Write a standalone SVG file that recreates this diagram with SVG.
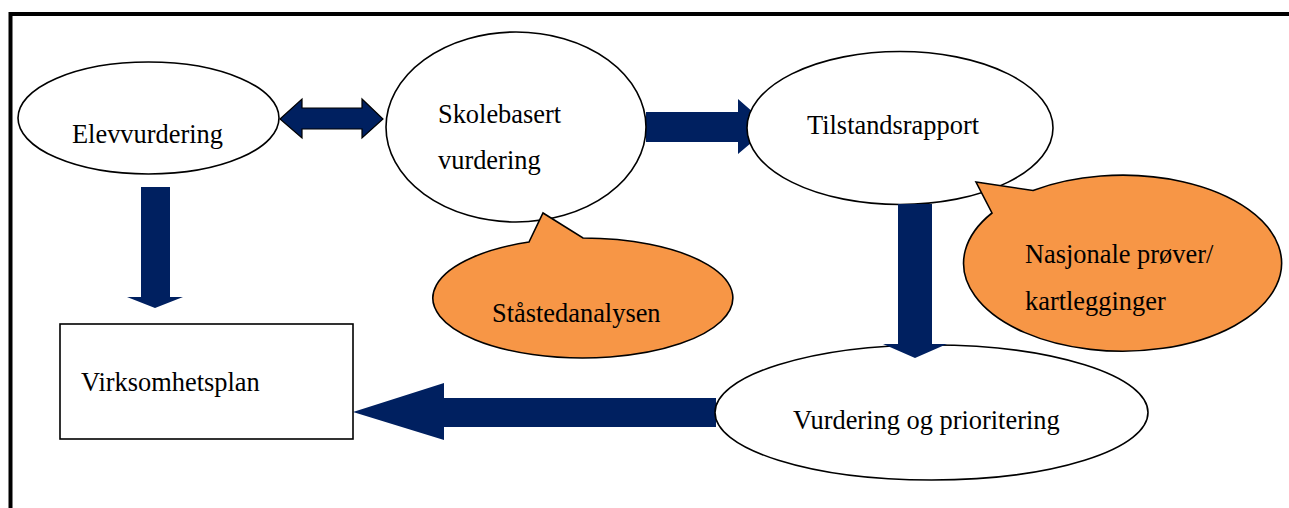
<svg xmlns="http://www.w3.org/2000/svg" width="1289" height="508" viewBox="0 0 1289 508">
<style>
.node{fill:#fff;stroke:#000;stroke-width:1.6}
.bubble{fill:#F79646;stroke:#000;stroke-width:1.6}
.arrow{fill:#002060;stroke:none}
.arrow2{fill:#002060;stroke:#000;stroke-width:1.2}
text{font-family:"Liberation Serif","Times New Roman",serif;font-size:26.4px;fill:#000}
.frame{stroke:#000;stroke-width:4;fill:none}
</style>
<rect x="0" y="0" width="1289" height="508" fill="#fff"/>
<g id="frame">
<line class="frame" x1="9" y1="14" x2="1289" y2="14"/>
<line class="frame" x1="10.5" y1="12" x2="10.5" y2="508"/>
</g>
<g id="connectors">
<polygon class="arrow2" points="280,119 302,99 302,108 362,108 362,99 383,119 362,138 362,129 302,129 302,138"/>
<polygon class="arrow" points="646,112 738,112 738,99 770,127 738,154 738,142 646,142"/>
<polygon class="arrow" points="141,187 170,187 170,297 183,297 155,308 127,297 141,297"/>
<polygon class="arrow" points="716,398 716,427 444,427 444,440 353,412 444,383 444,398"/>
</g>
<g id="elevvurdering">
<ellipse class="node" cx="148.5" cy="118" rx="130.5" ry="56"/>
<text x="72" y="143">Elevvurdering</text>
</g>
<g id="skolebasert">
<ellipse class="node" cx="516" cy="127" rx="130" ry="95"/>
<text x="438" y="123">Skolebasert</text>
<text x="438" y="169">vurdering</text>
</g>
<g id="tilstandsrapport">
<ellipse class="node" cx="900" cy="128" rx="153" ry="76.5"/>
<text x="807" y="134">Tilstandsrapport</text>
</g>
<g id="vurdering">
<ellipse class="node" cx="931.5" cy="412.5" rx="216.5" ry="67.5"/>
<text x="793" y="429">Vurdering og prioritering</text>
</g>
<g id="connector-down-right">
<polygon class="arrow" points="898,204 932,204 932,344 947,344 915,358 883,344 898,344"/>
</g>
<g id="virksomhetsplan">
<rect class="node" x="60" y="324" width="293" height="115"/>
<text x="81" y="391">Virksomhetsplan</text>
</g>
<g id="staastedanalysen">
<path class="bubble" d="M529,242 L543,213 L583,238 A150,60 0 1,1 529,242 Z"/>
<text x="492" y="322">Ståstedanalysen</text>
</g>
<g id="nasjonale">
<path class="bubble" d="M992,213 L976,182 L1033,190.5 A159,88 0 1,1 992,213 Z"/>
<text x="1025" y="263">Nasjonale prøver/</text>
<text x="1025" y="310">kartlegginger</text>
</g>
</svg>
